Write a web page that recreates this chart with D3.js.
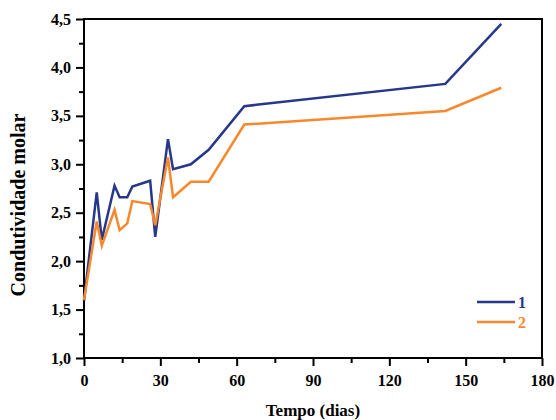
<!DOCTYPE html>
<html>
<head>
<meta charset="utf-8">
<script src="https://cdn.jsdelivr.net/npm/d3@7"></script>
<style>
  body { margin: 0; background: #fff; }
  text { font-family: "Liberation Serif", "Times New Roman", serif; font-weight: bold; }
</style>
</head>
<body>
<div id="chart"></div>
<script>
// values
var days = [0, 5, 7, 12, 14, 17, 19, 26, 28, 33, 35, 42, 49, 63, 142, 164];
var serie1 = [1.59, 2.71, 2.22, 2.78, 2.66, 2.66, 2.77, 2.83, 2.25, 3.26, 2.95, 3.00, 3.15, 3.60, 3.83, 4.45];
var serie2 = [1.60, 2.41, 2.16, 2.53, 2.32, 2.39, 2.62, 2.59, 2.37, 3.07, 2.66, 2.82, 2.82, 3.41, 3.55, 3.79];
var seriesNames = ["1", "2"];
var xTicks = [0, 30, 60, 90, 120, 150, 180];
var yTicks = [1.0, 1.5, 2.0, 2.5, 3.0, 3.5, 4.0, 4.5];

var colors = ["#27378a", "#f7892c"];

var margin = {top: 19, right: 14, bottom: 62, left: 84},
    width = 556 - margin.left - margin.right,
    height = 420 - margin.top - margin.bottom;

var x = d3.scaleLinear().domain([0, 180]).range([0, width]);
var y = d3.scaleLinear().domain([1, 4.5]).range([height, 0]);

var svg = d3.select("#chart").append("svg")
    .attr("width", 556)
    .attr("height", 420)
  .append("g")
    .attr("transform", "translate(" + margin.left + "," + margin.top + ")");

var fmt = function(d) { return d3.format(".1f")(d).replace(".", ","); };

// minor ticks first
svg.append("g")
    .attr("transform", "translate(0," + height + ")")
    .call(d3.axisBottom(x).tickValues(d3.range(15, 180, 30)).tickSize(5).tickFormat(""))
    .call(function(g) { g.select(".domain").remove(); })
    .selectAll("line").attr("stroke-width", 2);

svg.append("g")
    .call(d3.axisLeft(y).tickValues(d3.range(1.25, 4.5, 0.5)).tickSize(5).tickFormat(""))
    .call(function(g) { g.select(".domain").remove(); })
    .selectAll("line").attr("stroke-width", 2);

var xAxis = svg.append("g")
    .attr("transform", "translate(0," + height + ")")
    .call(d3.axisBottom(x).tickValues(xTicks).tickSize(8).tickPadding(9).tickFormat(d3.format("d")));
xAxis.select(".domain").remove();
xAxis.selectAll("line").attr("stroke-width", 2);
xAxis.selectAll("text").attr("font-size", 16).attr("fill", "#000")
    .style("font-family", "'Liberation Serif', serif").style("font-weight", "bold");

var yAxis = svg.append("g")
    .call(d3.axisLeft(y).tickValues(yTicks).tickSize(8).tickPadding(5).tickFormat(fmt));
yAxis.select(".domain").remove();
yAxis.selectAll("line").attr("stroke-width", 2);
yAxis.selectAll("text").attr("font-size", 16).attr("fill", "#000")
    .style("font-family", "'Liberation Serif', serif").style("font-weight", "bold");

// frame
svg.append("rect")
    .attr("x", 0)
    .attr("y", 0)
    .attr("width", width)
    .attr("height", height)
    .style("fill", "none")
    .style("stroke", "#000")
    .style("stroke-width", 2);

var line = d3.line()
    .x(function(d) { return x(d[0]); })
    .y(function(d) { return y(d[1]); });

[serie1, serie2].forEach(function(s, i) {
    svg.append("path")
        .datum(days.map(function(d, j) { return [d, s[j]]; }))
        .attr("d", line)
        .style("fill", "none")
        .style("stroke", colors[i])
        .style("stroke-width", 2.5)
        .style("stroke-linejoin", "miter");
});

// legend
var legend = svg.selectAll(".legend")
    .data(seriesNames)
  .enter().append("g")
    .attr("class", "legend")
    .attr("transform", function(d, i) { return "translate(" + (393) + "," + (283 + i * 20) + ")"; });

legend.append("line")
    .attr("x1", 0).attr("x2", 38)
    .attr("y1", 0).attr("y2", 0)
    .style("stroke", function(d, i) { return colors[i]; })
    .style("stroke-width", 2.5);

legend.append("text")
    .attr("x", 41)
    .attr("y", 0)
    .attr("dy", "0.35em")
    .attr("font-size", 16)
    .style("fill", function(d, i) { return colors[i]; })
    .text(function(d) { return d; });

// axis titles
svg.append("text")
    .attr("x", width / 2)
    .attr("y", height + 58)
    .attr("text-anchor", "middle")
    .attr("font-size", 17)
    .text("Tempo (dias)");

svg.append("text")
    .attr("transform", "translate(" + (-59) + "," + (186) + ") rotate(-90)")
    .attr("text-anchor", "middle")
    .attr("font-size", 20)
    .text("Condutividade molar");
</script>
</body>
</html>
